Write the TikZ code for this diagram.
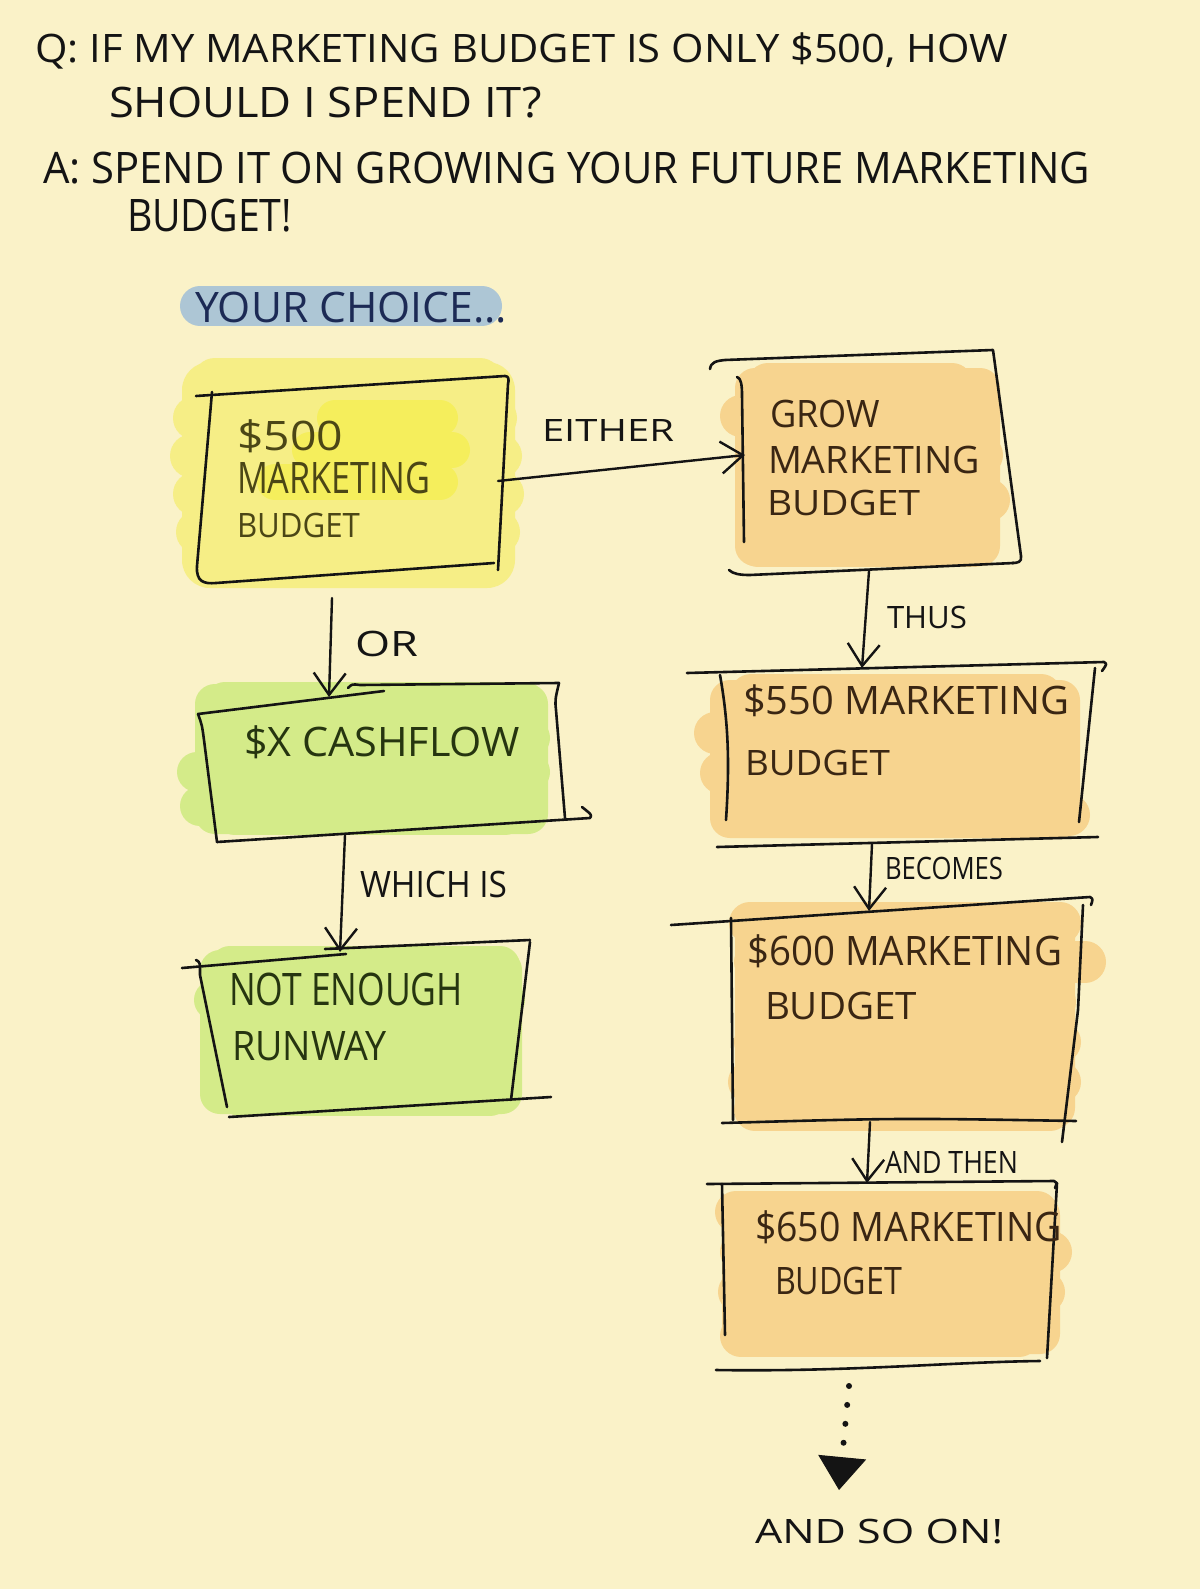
\documentclass[tikz,border=0pt]{standalone}
\usepackage{fontspec}
\setmainfont{Open Sans}
\usepackage{graphicx}
\usetikzlibrary{arrows.meta,calc}
\definecolor{bg}{HTML}{FAF2C8}
\definecolor{hlY}{HTML}{F6EE86}
\definecolor{hlYb}{HTML}{F5EE5C}
\definecolor{hlO}{HTML}{F7D48F}
\definecolor{hlG}{HTML}{D4EB89}
\definecolor{hlB}{HTML}{ADC6D5}
\definecolor{inkY}{HTML}{4B4616}
\definecolor{inkO}{HTML}{3A2613}
\definecolor{inkG}{HTML}{263510}
\definecolor{inkB}{HTML}{1C2A55}
\newcommand\hw[3]{\resizebox{#1pt}{#2pt}{\vphantom{H}\smash{#3}}}
\newcommand\hlband[4]{\draw[line width=#4pt, line cap=round] (#1,#3) -- (#2,#3);}
\tikzset{
  txt/.style={inner sep=0pt, outer sep=0pt, anchor=south west, font=\fontsize{40}{48}\selectfont},
  boxnode/.style={rectangle, draw=none, inner sep=0pt, outer sep=0pt},
  frame/.style={line width=2.6pt, line cap=round, line join=round, black!92},
  arr/.style={line width=2.4pt, line cap=round, black!92, -{Straight Barb[length=22pt,width=32pt,line width=2.4pt]}},
  dotarr/.style={line width=6pt, line cap=round, dash pattern=on 0pt off 19pt, black!92,
     -{Triangle[length=33pt,width=48pt,line width=1pt]}}
}
\begin{document}
\begin{tikzpicture}[x=1pt,y=-1pt]
\fill[bg] (0,0) rectangle (1200,1589);
\useasboundingbox (0,0) rectangle (1200,1589);

% ---------- highlighter fills ----------
\begin{scope}[hlB]
\hlband{200}{482}{306}{40}
\end{scope}
\begin{scope}[hlY]
\fill[rounded corners=28pt] (182,362) rectangle (515,588);
\hlband{215}{480}{380}{44}
\hlband{195}{495}{418}{44}
\hlband{192}{500}{456}{44}
\hlband{195}{502}{494}{44}
\hlband{198}{498}{532}{44}
\hlband{210}{485}{566}{44}
\end{scope}
\begin{scope}[hlYb]
\hlband{335}{440}{418}{36}
\hlband{310}{452}{450}{36}
\hlband{275}{440}{482}{36}
\end{scope}
\begin{scope}[hlO]
\fill[rounded corners=20pt] (735,368) rectangle (1000,566);
\hlband{768}{952}{384}{42}
\hlband{741}{974}{416}{42}
\hlband{766}{982}{455}{42}
\hlband{761}{989}{500}{42}
\hlband{758}{974}{546}{42}
\fill[rounded corners=20pt] (710,680) rectangle (1080,838);
\hlband{751}{1041}{695}{42}
\hlband{715}{1049}{733}{42}
\hlband{721}{1059}{773}{42}
\hlband{736}{1069}{815}{42}
\fill[rounded corners=20pt] (735,905) rectangle (1075,1128);
\hlband{750}{1060}{923}{42}
\hlband{755}{1085}{962}{42}
\hlband{758}{1055}{1002}{42}
\hlband{755}{1060}{1042}{42}
\hlband{749}{1060}{1082}{42}
\hlband{755}{1050}{1110}{42}
\fill[rounded corners=20pt] (722,1195) rectangle (1060,1354);
\hlband{736}{1037}{1212}{42}
\hlband{741}{1051}{1252}{42}
\hlband{739}{1044}{1292}{42}
\hlband{741}{1019}{1336}{42}
\end{scope}
\begin{scope}[hlG]
\fill[rounded corners=20pt] (195,684) rectangle (548,834);
\hlband{225}{525}{702}{40}
\hlband{230}{530}{738}{40}
\hlband{197}{530}{772}{40}
\hlband{200}{525}{806}{40}
\hlband{235}{505}{815}{40}
\fill[rounded corners=20pt] (200,950) rectangle (522,1114);
\hlband{230}{500}{966}{40}
\hlband{214}{505}{1000}{40}
\hlband{220}{500}{1035}{40}
\hlband{225}{500}{1070}{40}
\hlband{240}{490}{1096}{40}
\end{scope}

% ---------- box nodes ----------
\node[boxnode, minimum width=310pt, minimum height=190pt] (b500) at (352,478) {};
\node[boxnode, minimum width=280pt, minimum height=212pt] (grow) at (880,462) {};
\node[boxnode, minimum width=364pt, minimum height=176pt] (b550) at (907,756) {};
\node[boxnode, minimum width=356pt, minimum height=212pt] (b600) at (907,1016) {};
\node[boxnode, minimum width=330pt, minimum height=184pt] (b650) at (887,1274) {};
\node[boxnode, minimum width=364pt, minimum height=150pt] (cash) at (382,762) {};
\node[boxnode, minimum width=330pt, minimum height=166pt] (runway) at (364,1028) {};

% ---------- hand-drawn frames ----------
% $500
\draw[frame] (196,396) -- (505,376) .. controls (509,376) and (509,380) .. (508,384) -- (498,570);
\draw[frame] (212,392) -- (197,566) .. controls (196,582) and (204,584) .. (216,583) -- (494,563);
% grow
\draw[frame] (710,369) .. controls (711,362) and (716,361) .. (725,360) -- (993,350) -- (1021,556) .. controls (1022,562) and (1018,563) .. (1012,563);
\draw[frame] (737,377) .. controls (741,378) and (742,385) .. (742,395) -- (744,542);
\draw[frame] (729,570) .. controls (733,574) and (740,575) .. (750,575) -- (1014,563);
% $550
\draw[frame] (687,673) -- (1104,662) .. controls (1107,664) .. (1102,671);
\draw[frame] (720,675) .. controls (728,720) and (730,760) .. (726,820);
\draw[frame] (1095,668) -- (1079,822);
\draw[frame] (717,847) -- (1098,837);
% $600
\draw[frame] (671,925) -- (1090,897) .. controls (1093,899) .. (1091,905);
\draw[frame] (731,918) -- (733,1120);
\draw[frame] (1083,905) -- (1078,1010) -- (1062,1142);
\draw[frame] (722,1123) .. controls (900,1118) .. (1076,1121);
% $650
\draw[frame] (707,1184) -- (1054,1181) .. controls (1057,1183) .. (1055,1188);
\draw[frame] (722,1184) -- (725,1335);
\draw[frame] (1057,1183) -- (1047,1358);
\draw[frame] (716,1370) .. controls (850,1372) and (950,1362) .. (1040,1361);
% cashflow
\draw[frame] (198,714) -- (384,691);
\draw[frame] (348,688) .. controls (352,684) .. (360,685) -- (559,683);
\draw[frame] (198,714) .. controls (202,725) .. (204,740) -- (217,842);
\draw[frame] (559,683) .. controls (555,700) .. (556,710) -- (565,818);
\draw[frame] (217,842) -- (590,818) .. controls (592,815) .. (582,807);
% runway
\draw[frame] (182,968) -- (346,954);
\draw[frame] (325,949) -- (530,940);
\draw[frame] (196,960) .. controls (200,962) .. (200,975) -- (227,1107);
\draw[frame] (530,942) -- (511,1100);
\draw[frame] (229,1117) -- (551,1097);

% ---------- titles ----------
\node[txt, black!92] (t1) at (35,63) {\hw{973}{28}{Q: IF MY MARKETING BUDGET IS ONLY \$500, HOW}};
\node[txt, black!92] (t2) at (109,118) {\hw{433}{30}{SHOULD I SPEND IT?}};
\node[txt, black!92] (t3) at (43,184) {\hw{1047}{31}{A: SPEND IT ON GROWING YOUR FUTURE MARKETING}};
\node[txt, black!92] (t4) at (127,232) {\hw{165}{32}{BUDGET!}};
\node[txt, inkB] (ych) at (195,322) {\hw{312}{30}{YOUR CHOICE...}};

% ---------- box texts ----------
\node[txt, inkY] (y1) at (237,450) {\hw{106}{29}{\$500}};
\node[txt, inkY] (y2) at (237,493) {\hw{193}{31}{MARKETING}};
\node[txt, inkY] (y3) at (237,537) {\hw{123}{24}{BUDGET}};
\node[txt, inkO] (g1) at (770,427) {\hw{110}{27}{GROW}};
\node[txt, inkO] (g2) at (768,473) {\hw{212}{27}{MARKETING}};
\node[txt, inkO] (g3) at (767,515) {\hw{153}{25}{BUDGET}};
\node[txt, inkO] (f1) at (743,714) {\hw{326}{28}{\$550 MARKETING}};
\node[txt, inkO] (f2) at (745,775) {\hw{145}{25}{BUDGET}};
\node[txt, inkO] (s1) at (747,965) {\hw{315}{29}{\$600 MARKETING}};
\node[txt, inkO] (s2) at (765,1019) {\hw{152}{27}{BUDGET}};
\node[txt, inkO] (h1) at (755,1241) {\hw{307}{29}{\$650 MARKETING}};
\node[txt, inkO] (h2) at (775,1294) {\hw{127}{27}{BUDGET}};
\node[txt, inkG] (c1) at (244,756) {\hw{276}{29}{\$X CASHFLOW}};
\node[txt, inkG] (r1) at (229,1005) {\hw{234}{32}{NOT ENOUGH}};
\node[txt, inkG] (r2) at (232,1060) {\hw{155}{29}{RUNWAY}};

% ---------- connector labels ----------
\node[txt, black!92] (leither) at (542,441) {\hw{132}{22}{EITHER}};
\node[txt, black!92] (lor) at (355,656) {\hw{63}{25}{OR}};
\node[txt, black!92] (lwhich) at (360,897) {\hw{147}{26}{WHICH IS}};
\node[txt, black!92] (lthus) at (887,628) {\hw{80}{22}{THUS}};
\node[txt, black!92] (lbecomes) at (885,879) {\hw{118}{22}{BECOMES}};
\node[txt, black!92] (lthen) at (885,1173) {\hw{133}{22}{AND THEN}};
\node[txt, black!92] (son) at (755,1543) {\hw{248}{24}{AND SO ON!}};

% ---------- connectors ----------
\draw[arr] ($(b500.east)+(-9,3)$) -- ($(grow.west)+(5,-7)$);
\draw[arr] ($(b500.south)+(-20,25)$) -- ($(cash.north)+(-53,10)$);
\draw[arr] ($(cash.south)+(-37,-2)$) -- ($(runway.north)+(-24,7)$);
\draw[arr] ($(grow.south)+(-11,3)$) -- ($(b550.north)+(-45,0)$);
\draw[arr] ($(b550.south)+(-35,0)$) -- ($(b600.north)+(-38,1)$);
\draw[arr] ($(b600.south)+(-37,0)$) -- ($(b650.north)+(-20,1)$);
\draw[dotarr] ($(b650.south)+(-38,20)$) -- ($(son.north)+(-40,-29)$);
\end{tikzpicture}
\end{document}
